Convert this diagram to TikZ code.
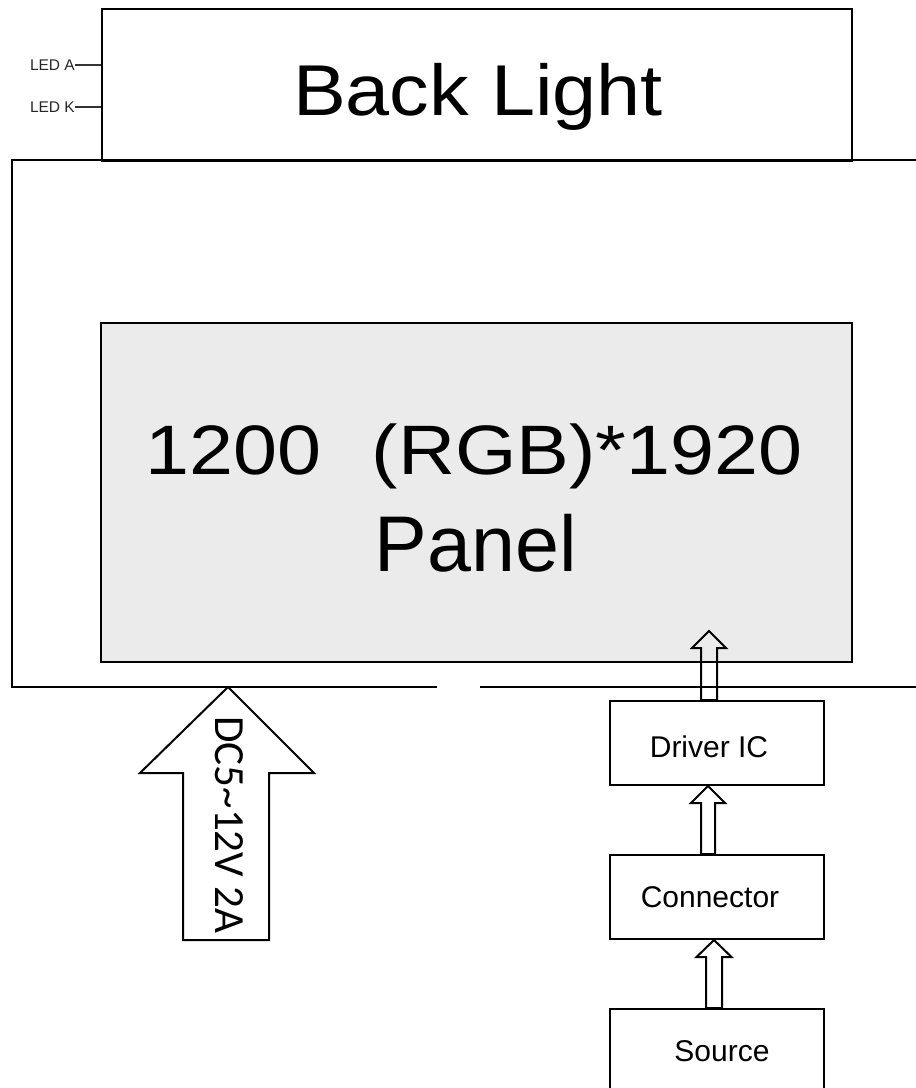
\documentclass[tikz,border=0pt]{standalone}
\usepackage{fontspec}
\setmainfont{Liberation Sans}
\newfontfamily\calibfont{Carlito}
\usetikzlibrary{calc}
\definecolor{panelgray}{HTML}{EBEBEB}
\tikzset{
  box/.style={draw=black, line width=2pt, rectangle, inner sep=0pt, anchor=north west},
  frameline/.style={draw=black, line width=2pt},
  harrowline/.style={draw=black, line width=2pt, line join=miter},
  bigtext/.style={inner sep=0pt, anchor=base, text=black},
  boxtext/.style={inner sep=0pt, anchor=base, font=\fontsize{30}{36}\selectfont},
  ledtext/.style={inner sep=0pt, anchor=east, text=black!85, font=\fontsize{15.5}{18}\selectfont},
  ledline/.style={draw=black!80, line width=1.2pt}
}
\newcommand{\hollowarrow}[5]{%
  \draw[harrowline] let \p1=(#1), \p2=(#2) in
    (\x1-#3,\y1) -- (\x1-#3,\y2-#5) -- (\x1-#4,\y2-#5) -- (\x1,\y2)
    -- (\x1+#4,\y2-#5) -- (\x1+#3,\y2-#5) -- (\x1+#3,\y1) -- cycle;}
\begin{document}
\begin{tikzpicture}[x=1pt,y=-1pt]
\useasboundingbox (0,0) rectangle (916,1088);

% outer frame (open at the right)
\coordinate (ftr) at (916,160);
\coordinate (ftl) at (12,160);
\coordinate (fbl) at (12,687);
\coordinate (fbm1) at (437,687);
\coordinate (fbm2) at (480,687);
\coordinate (fbr) at (916,687);
\draw[frameline] (ftr) -- (ftl) -- (fbl) -- (fbm1);
\draw[frameline] (fbm2) -- (fbr);

% back light
\node[box, minimum width=750pt, minimum height=152pt] (bl) at (101,8) {};
\node[bigtext, font=\fontsize{72}{80}\selectfont] (bltxt) at (478,115) {\scalebox{1.1}[1]{Back Light}};

% LED pins
\node[ledtext] (leda) at (75,65) {LED A};
\node[ledtext] (ledk) at (75,107) {LED K};
\draw[ledline] (leda.east) -- (leda.east -| bl.west);
\draw[ledline] (ledk.east) -- (ledk.east -| bl.west);

% panel
\node[box, fill=panelgray, minimum width=751pt, minimum height=339pt] (panel) at (100,322) {};
\node[bigtext, font=\fontsize{70}{80}\selectfont] (res) at (474,474) {\scalebox{1.13}[1]{1200\hspace{45pt}(RGB)*1920}};
\node[bigtext, font=\fontsize{79}{90}\selectfont] (ptxt) at (476,571) {Panel};

% driver chain
\node[box, minimum width=214pt, minimum height=84pt] (drv) at (609,700) {};
\node[boxtext] (drvtxt) at (709,757) {Driver IC};
\node[box, minimum width=214pt, minimum height=84pt] (conn) at (609,854) {};
\node[boxtext] (conntxt) at (710,907) {Connector};
\node[box, minimum width=214pt, minimum height=100pt] (src) at (609,1008) {};
\node[boxtext] (srctxt) at (722,1061) {Source};

\hollowarrow{$(drv.north west)+(100,0)$}{$(panel.south)+(0,-32)$}{8pt}{17pt}{17pt}
\hollowarrow{$(conn.north west)+(99,0)$}{drv.south}{7pt}{17pt}{17pt}
\hollowarrow{$(src.north west)+(105,0)$}{conn.south}{8pt}{17.5pt}{17pt}

% power input arrow
\coordinate (pwr) at (228,687);
\draw[harrowline] (pwr) -- ++(-88,86) -- ++(43,0) -- ++(0,167) -- ++(86,0)
  -- ++(0,-167) -- ++(45,0) -- cycle;
\node[rotate=-90, inner sep=0pt, font=\calibfont\fontsize{43}{50}\selectfont] (pwrtxt) at (229,825) {DC5\textasciitilde 12V 2A};
\end{tikzpicture}
\end{document}
